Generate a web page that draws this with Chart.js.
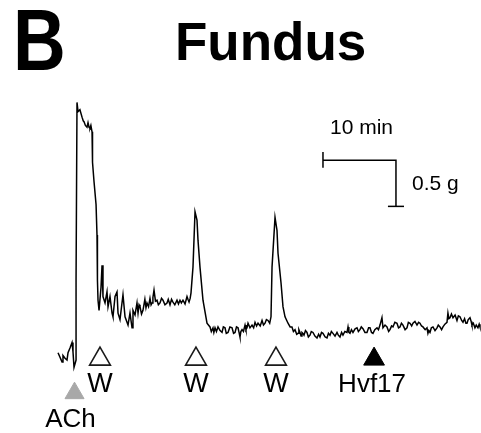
<!DOCTYPE html>
<html>
<head>
<meta charset="utf-8">
<script src="https://cdn.jsdelivr.net/npm/chart.js@4.4.0/dist/chart.umd.min.js"></script>
<style>
  html, body { margin: 0; padding: 0; background: #fff; }
  #wrap { width: 481px; height: 433px; }
</style>
</head>
<body>
<div id="wrap"><canvas id="trace" width="481" height="433"></canvas></div>
<script>
// Isometric tension recording, fundus strip (time in min, tension in g)
const timeMin = [
  0, 0.27, 0.55, 0.68, 0.96, 1.23, 1.37, 1.64, 1.92, 2.05, 2.19, 2.47,
  2.47, 2.60, 2.74, 3.0, 3.29, 3.45, 3.56, 3.75, 3.97, 4.11, 4.25, 4.38, 4.5, 4.66,
  4.66, 4.79, 4.93, 5.21, 5.34, 5.40, 5.48, 5.62,
  5.89, 6.03, 6.16, 6.44, 6.71, 6.85, 7.12, 7.40, 7.53, 7.81, 8.08, 8.22, 8.49, 8.90, 9.18, 9.59, 9.86, 10.14, 10.27, 10.55,
  10.82, 10.96, 11.1, 11.23, 11.44, 11.64, 11.9, 12.05, 12.19, 12.4, 12.60, 12.75, 12.88, 13.0, 13.15, 13.35, 13.56, 13.75, 13.97, 14.18,
  14.38, 14.65, 14.93, 15.1, 15.34, 15.55, 15.75, 16.0, 16.30, 16.5, 16.71, 16.9, 17.12, 17.4, 17.67, 17.8, 17.95, 18.1, 18.22,
  18.49, 18.77, 19.04, 19.18, 19.45, 19.86, 20.41,
  20.82, 21.0, 21.23, 21.35, 21.51, 21.7, 21.92, 22.2, 22.47, 22.65, 22.88, 23.05, 23.29, 23.55, 23.84, 24.05, 24.25, 24.45, 24.66, 24.8, 24.93,
  25.05, 25.21, 25.4, 25.62, 25.75, 25.89, 26.03, 26.3, 26.58, 26.8, 26.99, 27.2, 27.40, 27.7, 27.95, 28.15, 28.36, 28.55, 28.77, 29.0, 29.18,
  29.32, 29.73, 30.00, 30.14, 30.55, 30.82, 31.10,
  31.51, 31.8, 32.05, 32.25, 32.47, 32.7, 32.88, 33.0, 33.15, 33.3,
  33.42, 33.56, 33.70, 33.9, 34.11, 34.3, 34.52, 34.7, 34.93, 35.2,
  35.48, 35.7, 35.89, 36.1, 36.30, 36.6, 36.85, 37.05, 37.26, 37.45,
  37.67, 37.95, 38.22, 38.4, 38.63, 38.85, 39.04, 39.3, 39.59, 39.73,
  39.85, 40.00, 40.2, 40.41, 40.7, 40.96, 41.15, 41.37, 41.55, 41.78,
  42.05, 42.33, 42.55, 42.74, 42.95, 43.15, 43.4, 43.70, 43.9, 44.11,
  44.38, 44.52, 44.8, 45.07, 45.3, 45.48, 45.7, 45.89, 46.15, 46.44,
  46.65, 46.85, 47.05, 47.26, 47.55, 47.81, 48.0, 48.22, 48.45, 48.63,
  48.9, 49.18, 49.4, 49.59, 49.8, 50.00, 50.3, 50.55, 50.68, 50.8,
  50.96, 51.15, 51.37, 51.65, 51.92, 52.1, 52.33, 52.55, 52.74, 53.0,
  53.29, 53.42, 53.55, 53.70, 53.9, 54.11, 54.4, 54.66, 54.85, 55.07,
  55.3, 55.48, 55.7, 55.88, 56.03, 56.2, 56.44, 56.6, 56.71, 56.9,
  57.12, 57.3, 57.53, 57.7, 57.81
];
const tensionG = [
  0.08, 0.03, -0.02, 0.05, 0.02, 0.00, 0.08, 0.13, 0.19, 0.09, -0.08, 0.00,
  0.87, 2.80, 2.70, 2.72, 2.64, 2.60, 2.59, 2.55, 2.53, 2.58, 2.53, 2.52, 2.55, 2.48,
  2.34, 2.15, 1.94, 1.69, 1.36, 0.87, 0.65, 0.54,
  0.79, 1.03, 0.69, 0.62, 0.74, 0.58, 0.69, 0.51, 0.47, 0.69, 0.74, 0.51, 0.44, 0.71, 0.47, 0.38, 0.51, 0.35, 0.54, 0.49,
  0.62, 0.51, 0.60, 0.58, 0.50, 0.54, 0.66, 0.57, 0.62, 0.58, 0.67, 0.60, 0.62, 0.68, 0.76, 0.64, 0.65, 0.60, 0.62, 0.67,
  0.65, 0.60, 0.62, 0.66, 0.60, 0.66, 0.63, 0.60, 0.65, 0.61, 0.65, 0.62, 0.65, 0.61, 0.69, 0.66, 0.63, 0.67, 0.73,
  1.01, 1.61, 1.52, 1.30, 1.01, 0.65, 0.40,
  0.36, 0.31, 0.35, 0.30, 0.35, 0.31, 0.36, 0.32, 0.30, 0.36, 0.35, 0.29, 0.30, 0.36, 0.35, 0.29, 0.30, 0.36, 0.35, 0.30, 0.25,
  0.31, 0.33, 0.31, 0.38, 0.33, 0.35, 0.40, 0.35, 0.38, 0.35, 0.41, 0.37, 0.40, 0.37, 0.43, 0.38, 0.40, 0.44, 0.43, 0.40, 0.47,
  1.01, 1.55, 1.41, 1.16, 0.84, 0.58, 0.47,
  0.40, 0.36, 0.36, 0.31, 0.33, 0.28, 0.29, 0.33, 0.30, 0.26,
  0.30, 0.29, 0.27, 0.32, 0.30, 0.25, 0.27, 0.31, 0.30, 0.26,
  0.24, 0.28, 0.25, 0.30, 0.29, 0.25, 0.24, 0.29, 0.27, 0.31,
  0.29, 0.26, 0.30, 0.27, 0.25, 0.30, 0.27, 0.31, 0.30, 0.36,
  0.30, 0.29, 0.33, 0.30, 0.34, 0.35, 0.31, 0.33, 0.36, 0.34,
  0.30, 0.30, 0.35, 0.35, 0.30, 0.29, 0.33, 0.35, 0.33, 0.38,
  0.46, 0.35, 0.38, 0.36, 0.31, 0.33, 0.37, 0.36, 0.41, 0.40,
  0.35, 0.36, 0.40, 0.38, 0.33, 0.35, 0.41, 0.40, 0.37, 0.40,
  0.42, 0.38, 0.41, 0.40, 0.37, 0.36, 0.33, 0.35, 0.29, 0.32,
  0.30, 0.35, 0.36, 0.32, 0.35, 0.38, 0.36, 0.33, 0.36, 0.39,
  0.41, 0.51, 0.45, 0.46, 0.50, 0.46, 0.49, 0.43, 0.48, 0.47,
  0.43, 0.41, 0.45, 0.40, 0.40, 0.44, 0.46, 0.42, 0.38, 0.40,
  0.35, 0.38, 0.35, 0.39, 0.36
];

// Drug additions / washes (min)
const achTime = [2.26];
const washTimes = [5.75, 18.9, 29.86];
const hvfTime = [43.3];
const markLevel = 0.01;
const achLevel = -0.36;

// Scale bar
const barMin = 10;
const barG = 0.5;
const barStart = { x: 36.3, y: 2.17 };

const traceData = timeMin.map((t, i) => ({ x: t, y: tensionG[i] }));
const barEnd = barStart.x + barMin;
const barBottom = barStart.y - barG;

const FONT = '"Liberation Sans", Arial, sans-serif';

// Labels drawn on top of the chart
const labelPlugin = {
  id: 'labels',
  afterDraw(chart) {
    const ctx = chart.ctx;
    const xs = chart.scales.x, ys = chart.scales.y;
    ctx.save();
    ctx.fillStyle = '#000';
    ctx.textBaseline = 'alphabetic';

    // panel letter and title
    ctx.font = 'bold 87px ' + FONT;
    ctx.save();
    ctx.translate(13, 70);
    ctx.scale(0.84, 1);
    ctx.fillText('B', 0, 0);
    ctx.restore();
    ctx.font = 'bold 53px ' + FONT;
    ctx.textAlign = 'left';
    ctx.fillText('Fundus', 175, 60);

    // scale bar labels
    ctx.font = '21px ' + FONT;
    ctx.textAlign = 'center';
    ctx.fillText(barMin + ' min', (xs.getPixelForValue(barStart.x) + xs.getPixelForValue(barEnd)) / 2 + 2, ys.getPixelForValue(barStart.y) - 26);
    ctx.textAlign = 'left';
    ctx.fillText(barG + ' g', xs.getPixelForValue(barEnd) + 16, ys.getPixelForValue(barStart.y) + 30);

    // marker labels
    ctx.font = '27px ' + FONT;
    ctx.textAlign = 'center';
    const rowY = ys.getPixelForValue(markLevel) + 33;
    washTimes.forEach(t => ctx.fillText('W', xs.getPixelForValue(t), rowY));
    ctx.font = '26px ' + FONT;
    hvfTime.forEach(t => ctx.fillText('Hvf17', xs.getPixelForValue(t) - 2, rowY));
    achTime.forEach(t => ctx.fillText('ACh', xs.getPixelForValue(t) - 4, ys.getPixelForValue(achLevel) + 34));
    ctx.restore();
  }
};

function barLine(points) {
  return {
    type: 'line', data: points, borderColor: '#000', borderWidth: 1.5,
    pointRadius: 0, tension: 0, fill: false
  };
}

new Chart(document.getElementById('trace'), {
  type: 'line',
  data: {
    datasets: [
      {
        data: traceData, borderColor: '#000', borderWidth: 1.5,
        pointRadius: 0, tension: 0, fill: false
      },
      barLine([{ x: barStart.x, y: barStart.y }, { x: barEnd, y: barStart.y }, { x: barEnd, y: barBottom }]),
      barLine([{ x: barStart.x, y: barStart.y + 0.09 }, { x: barStart.x, y: barStart.y - 0.08 }]),
      barLine([{ x: barEnd - 1.1, y: barBottom }, { x: barEnd + 1.1, y: barBottom }]),
      {
        type: 'scatter', data: washTimes.map(t => ({ x: t, y: markLevel })),
        pointStyle: 'triangle', pointRadius: 12, backgroundColor: '#fff',
        borderColor: '#1a1a1a', borderWidth: 1.6
      },
      {
        type: 'scatter', data: hvfTime.map(t => ({ x: t, y: markLevel })),
        pointStyle: 'triangle', pointRadius: 12, backgroundColor: '#000',
        borderColor: '#000', borderWidth: 1
      },
      {
        type: 'scatter', data: achTime.map(t => ({ x: t, y: achLevel })),
        pointStyle: 'triangle', pointRadius: 11, backgroundColor: '#a8a8a8',
        borderColor: '#a8a8a8', borderWidth: 1
      }
    ]
  },
  options: {
    responsive: false,
    animation: false,
    devicePixelRatio: 1,
    layout: { padding: 0, autoPadding: false },
    plugins: { legend: { display: false }, tooltip: { enabled: false } },
    elements: { point: { hoverRadius: 0 } },
    scales: {
      x: { type: 'linear', min: -7.95, max: 57.95, display: false },
      y: { type: 'linear', min: -0.793, max: 3.913, display: false }
    }
  },
  plugins: [labelPlugin]
});
</script>
</body>
</html>
